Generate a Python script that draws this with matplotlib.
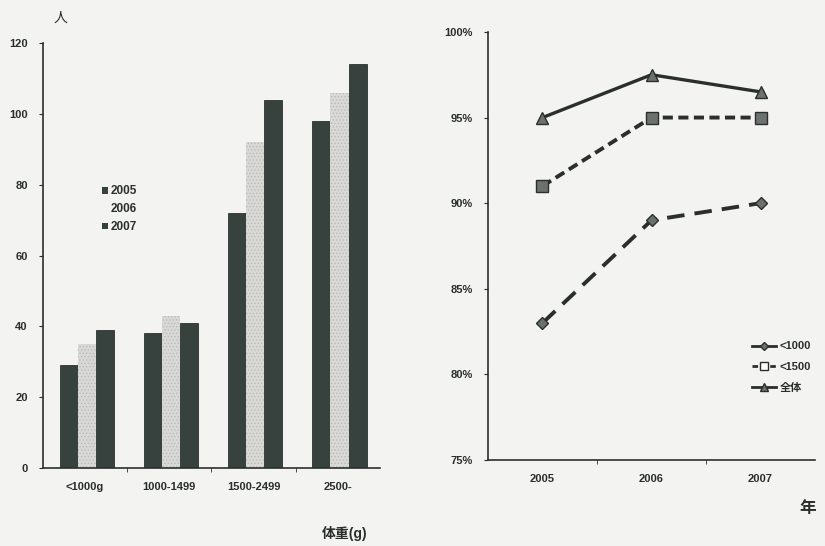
import matplotlib
matplotlib.use("Agg")
import matplotlib.pyplot as plt
from matplotlib.lines import Line2D
from matplotlib.patches import Patch
import numpy as np

plt.rcParams['font.family'] = ['Liberation Sans', 'Noto Sans CJK JP']
plt.rcParams['hatch.linewidth'] = 0.6

# Left: number of infants by birth weight and year
weight_groups = ["<1000g", "1000-1499", "1500-2499", "2500-"]
years_bar = ["2005", "2006", "2007"]
count_2005 = [29, 38, 72, 98]
count_2006 = [35, 43, 92, 106]
count_2007 = [39, 41, 104, 114]

# Right: survival rate by year
years_line = ["2005", "2006", "2007"]
rate_lt1000 = [83.0, 89.0, 90.0]
rate_lt1500 = [91.0, 95.0, 95.0]
rate_all = [95.0, 97.5, 96.5]

bg = '#f3f3f1'
dark = '#37413e'
light = '#d9dad7'
ink = '#2a2f2d'

fig = plt.figure(figsize=(8.25, 5.46), dpi=100, facecolor=bg)

# ---------- bar chart ----------
ax1 = fig.add_axes([0.0521, 0.1429, 0.4085, 0.778], facecolor=bg)
x = np.arange(len(weight_groups))
w = 0.215
ax1.bar(x - w + 0.02, count_2005, w, color=dark, edgecolor='#2b3230', linewidth=0.6, zorder=2)
ax1.bar(x + 0.02, count_2006, w, color=light, edgecolor='#b9bbb8', linewidth=0.0,
        hatch='.....', zorder=2)
ax1.bar(x + w + 0.02, count_2007, w, color=dark, edgecolor='#2b3230', linewidth=0.6, zorder=2)

ax1.set_xlim(-0.5, len(weight_groups) - 0.5)
ax1.set_ylim(0, 120)
ax1.set_yticks(range(0, 121, 20))
ax1.set_xticks(x)
ax1.set_xticklabels(weight_groups)
ax1.set_xticks(np.arange(0.5, len(weight_groups) - 0.5, 1), minor=True)
ax1.tick_params(axis='x', which='major', length=0, pad=10, labelsize=8, colors=ink)
ax1.tick_params(axis='x', which='minor', length=3, direction='out', color=ink)
ax1.tick_params(axis='y', length=3, direction='out', labelsize=8, colors=ink, pad=8)
for lab in ax1.get_xticklabels() + ax1.get_yticklabels():
    lab.set_fontweight('bold')
for s in ['top', 'right']:
    ax1.spines[s].set_visible(False)
for s in ['left', 'bottom']:
    ax1.spines[s].set_color(ink)
    ax1.spines[s].set_linewidth(1.2)

fig.text(60 / 825, 1 - 18 / 546, "人", fontsize=10, color=ink, ha='center', va='center')
fig.text(345 / 825, 1 - 533 / 546, "体重(g)", fontsize=10, color=ink,
         ha='center', va='center', fontweight='bold')

bar_handles = [Patch(facecolor=dark, edgecolor='none'),
               Patch(facecolor=bg, edgecolor='none'),
               Patch(facecolor=dark, edgecolor='none')]
leg1 = ax1.legend(bar_handles, years_bar, loc='upper left',
                  bbox_to_anchor=(0.145, 0.69), frameon=False,
                  handlelength=0.5, handleheight=0.5, handletextpad=0.15,
                  labelspacing=0.5, prop={'size': 8.5, 'weight': 'bold'})
for t in leg1.get_texts():
    t.set_color(ink)

# ---------- line chart ----------
ax2 = fig.add_axes([0.5915, 0.1575, 0.3964, 0.784], facecolor=bg)
xl = np.arange(len(years_line))
ax2.plot(xl, rate_lt1000, color=ink, lw=2.8, dashes=(4.5, 2.6),
         marker='D', ms=6, mfc='#6b716f', mec=ink, mew=1.0, zorder=3)
ax2.plot(xl, rate_lt1500, color=ink, lw=2.8, dashes=(2.6, 1.4),
         marker='s', ms=8, mfc='#6b716f', mec=ink, mew=1.0, zorder=3)
ax2.plot(xl, rate_all, color=ink, lw=2.4, linestyle='-',
         marker='^', ms=8, mfc='#6b716f', mec=ink, mew=1.0, zorder=3)

ax2.set_xlim(-0.5, len(years_line) - 0.5)
ax2.set_ylim(75, 100)
ax2.set_yticks(range(75, 101, 5))
ax2.set_yticklabels([f"{v}%" for v in range(75, 101, 5)])
ax2.set_xticks(xl)
ax2.set_xticklabels(years_line)
ax2.set_xticks(np.arange(0.5, len(years_line) - 0.5, 1), minor=True)
ax2.tick_params(axis='x', which='major', length=0, pad=10, labelsize=8, colors=ink)
ax2.tick_params(axis='x', which='minor', length=3, direction='out', color=ink)
ax2.tick_params(axis='y', length=3, direction='out', labelsize=8, colors=ink, pad=8)
for lab in ax2.get_xticklabels() + ax2.get_yticklabels():
    lab.set_fontweight('bold')
for s in ['top', 'right']:
    ax2.spines[s].set_visible(False)
for s in ['left', 'bottom']:
    ax2.spines[s].set_color(ink)
    ax2.spines[s].set_linewidth(1.2)

fig.text(808 / 825, 1 - 508 / 546, "年", fontsize=12, color=ink, ha='center', va='center',
         fontweight='bold')

line_handles = [
    Line2D([], [], color=ink, lw=2, marker='D', ms=4.5, mfc='#6b716f', mec=ink),
    Line2D([], [], color=ink, lw=2, dashes=(2, 1.2), marker='s', ms=6, mfc='white', mec=ink),
    Line2D([], [], color=ink, lw=2, marker='^', ms=5.5, mfc='#6b716f', mec=ink),
]
leg2 = ax2.legend(line_handles, ["<1000", "<1500", "全体"], loc='upper left',
                  bbox_to_anchor=(0.79, 0.29), frameon=False,
                  handlelength=2.2, handletextpad=0.3, labelspacing=0.95,
                  prop={'size': 8, 'weight': 'bold'}, borderpad=0)
for t in leg2.get_texts():
    t.set_color(ink)

fig.savefig("out.png", dpi=100, facecolor=bg)
